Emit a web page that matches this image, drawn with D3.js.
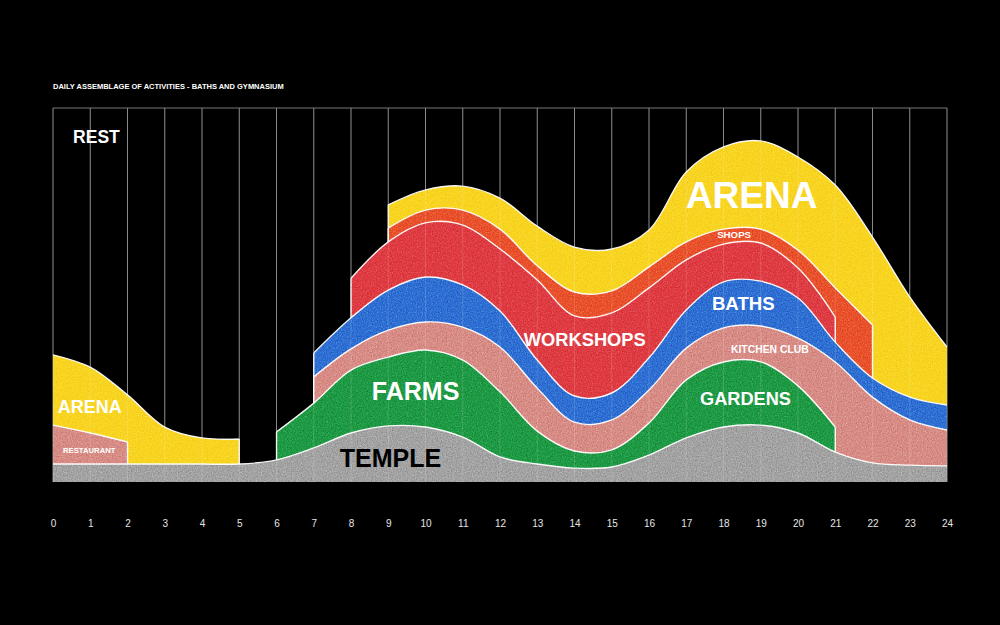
<!DOCTYPE html>
<html>
<head>
<meta charset="utf-8">
<script src="https://cdn.jsdelivr.net/npm/d3@7"></script>
<style>
  html, body { margin: 0; padding: 0; background: #000; }
  svg { display: block; }
  text { font-family: "Liberation Sans", Arial, Helvetica, sans-serif; }
</style>
</head>
<body>
<svg id="chart" width="1000" height="625"></svg>
<script>
// ---------- DATA (upper edge of each activity band, % of day-use capacity) ----------
const hours = d3.range(0, 25);
const hourLabels = hours.map(h => String(h));
const N = null;

const temple            = [4.8,4.8,4.8,4.8,4.8,4.8,5.9,9.1,13.1,15.0,14.7,12.0,6.7,4.8,3.7,4.0,7.2,11.8,14.7,15.2,13.1,8.0,5.1,4.5,4.3];
const farmsGardens      = [N,N,N,N,N,N,13.4,21.1,29.9,33.4,35.3,32.6,24.1,13.6,8.3,8.6,15.8,27.3,32.1,32.1,25.7,14.7,N,N,N];
const restaurantKitchen = [15.2,13.1,10.7,N,N,N,N,28.1,35.6,40.6,42.8,41.4,36.1,25.1,16.0,16.6,24.6,35.8,41.2,41.7,38.5,32.1,22.7,16.6,13.9];
const baths             = [N,N,N,N,N,N,N,34.5,43.9,51.3,54.8,52.7,45.7,32.6,23.0,23.8,33.2,46.0,53.5,53.7,49.2,37.4,27.8,22.7,20.6];
const workshops         = [N,N,N,N,N,N,N,N,54.5,64.2,69.3,68.7,62.3,54.0,44.4,45.2,51.9,59.4,63.6,63.9,57.2,44.1,N,N,N];
const shops             = [N,N,N,N,N,N,N,N,N,67.9,72.7,72.7,67.6,57.8,50.8,51.1,57.5,64.2,67.6,67.6,62.0,51.9,42.0,N,N];
const arena             = [34.0,30.7,23.3,14.7,11.8,11.5,N,N,N,74.1,78.1,79.1,75.9,68.4,62.8,62.3,67.4,82.9,89.6,91.2,86.9,79.4,65.5,49.5,36.1];

const seriesNames  = ["arena","shops","workshops","baths","restaurantKitchen","farmsGardens","temple"];
const seriesValues = [arena, shops, workshops, baths, restaurantKitchen, farmsGardens, temple];
const seriesColors = ["#f8d520","#e9502b","#df3a41","#2d6ed3","#d88c85","#1e9a43","#a3a3a3"];

const labelTexts  = ["REST","ARENA","RESTAURANT","TEMPLE","FARMS","WORKSHOPS","ARENA","SHOPS","BATHS","KITCHEN CLUB","GARDENS"];
const labelHours  = [0.54, 0.13, 0.27, 7.7, 8.56, 12.64, 16.99, 17.83, 17.69, 18.2, 17.37];
const labelValues = [90.6, 18.4, 7.75, 4.0, 21.9, 36.4, 73.3, 65.2, 46.0, 34.5, 20.6];
const labelSizes  = [17.5, 18, 7.7, 25, 25, 18.3, 37, 9.7, 18.6, 10.4, 18.2];
const labelColors = ["#fff","#fff","#fff","#000","#fff","#fff","#fff","#fff","#fff","#fff","#fff"];

const title = "DAILY ASSEMBLAGE OF ACTIVITIES - BATHS AND GYMNASIUM";

// ---------- CHART ----------
const svg = d3.select("#chart");
const W = 1000, H = 625;
const mLeft = 53, mRight = 947, mTop = 108, mBottom = 482;

svg.append("rect").attr("width", W).attr("height", H).attr("fill", "#000");

const x = d3.scaleLinear().domain([0, 24]).range([mLeft, mRight]);
const y = d3.scaleLinear().domain([0, 100]).range([mBottom, mTop]);

const defs = svg.append("defs");
const f = defs.append("filter").attr("id", "grain")
  .attr("filterUnits", "userSpaceOnUse")
  .attr("x", 0).attr("y", 0).attr("width", W).attr("height", H);
f.append("feTurbulence").attr("type", "fractalNoise").attr("baseFrequency", 0.8)
  .attr("numOctaves", 3).attr("seed", 5).attr("result", "noise");
f.append("feColorMatrix").attr("in", "noise").attr("type", "matrix")
  .attr("values", "0.45 0.45 0.45 0 -0.18  0.45 0.45 0.45 0 -0.18  0.45 0.45 0.45 0 -0.18  0 0 0 0 1")
  .attr("result", "gray");
f.append("feBlend").attr("in", "gray").attr("in2", "SourceGraphic").attr("mode", "soft-light").attr("result", "blend");
f.append("feComposite").attr("in", "blend").attr("in2", "SourceGraphic").attr("operator", "in");

// grid under
const gridG = svg.append("g");
gridG.selectAll("line").data(hours).join("line")
  .attr("x1", d => x(d)).attr("x2", d => x(d))
  .attr("y1", mTop).attr("y2", mBottom)
  .attr("stroke", "#777").attr("stroke-width", 1);
gridG.append("line").attr("x1", x(0)).attr("x2", x(24)).attr("y1", mTop).attr("y2", mTop)
  .attr("stroke", "#777").attr("stroke-width", 1);

const curve = d3.curveCatmullRom.alpha(0.5);
const area = d3.area()
  .defined(d => d.v !== null)
  .x(d => x(d.h)).y0(y(0)).y1(d => y(d.v)).curve(curve);
const line = d3.line().x(d => x(d.h)).y(d => y(d.v)).curve(curve);

const areasG = svg.append("g").attr("filter", "url(#grain)");

seriesValues.forEach((vals, i) => {
  const pts = vals.map((v, h) => ({ h, v }));
  const g = areasG.append("g").attr("class", seriesNames[i]);
  g.append("path").attr("d", area(pts)).attr("fill", seriesColors[i]);
  let runs = [], cur = [];
  pts.forEach(p => {
    if (p.v === null) { if (cur.length) runs.push(cur); cur = []; }
    else cur.push(p);
  });
  if (cur.length) runs.push(cur);
  runs.forEach(run => {
    let d = line(run);
    const s = run[0], e = run[run.length - 1];
    if (s.h > 0) d += `M${x(s.h)},${y(0)}L${x(s.h)},${y(s.v)}`;
    if (e.h < 24) d += `M${x(e.h)},${y(0)}L${x(e.h)},${y(e.v)}`;
    g.append("path").attr("d", d).attr("fill", "none")
      .attr("stroke", "#fff").attr("stroke-width", 1.4).attr("stroke-opacity", 0.95);
  });
});

// grid over (faint)
const gridOver = svg.append("g");
gridOver.selectAll("line").data(hours).join("line")
  .attr("x1", d => x(d)).attr("x2", d => x(d))
  .attr("y1", mTop).attr("y2", mBottom)
  .attr("stroke", "#fff").attr("stroke-opacity", 0.14).attr("stroke-width", 1);

// labels
svg.append("g").selectAll("text").data(labelTexts).join("text")
  .attr("x", (d, i) => x(labelHours[i]))
  .attr("y", (d, i) => y(labelValues[i]))
  .attr("font-size", (d, i) => labelSizes[i])
  .attr("font-weight", "bold")
  .attr("fill", (d, i) => labelColors[i])
  .text(d => d);

// title
svg.append("text").attr("x", mLeft).attr("y", 89)
  .attr("font-size", 7.5).attr("font-weight", "bold").attr("fill", "#fff")
  .text(title);

// x axis
const axis = d3.axisBottom(x).tickValues(hours).tickFormat((d, i) => hourLabels[i])
  .tickSize(0).tickPadding(38);
const ax = svg.append("g").attr("transform", `translate(0,${mBottom})`).call(axis);
ax.select(".domain").remove();
ax.selectAll("text").attr("fill", "#e6e6e6").attr("font-size", 10)
  .attr("font-family", "'Liberation Sans', Arial, sans-serif");
</script>
</body>
</html>
